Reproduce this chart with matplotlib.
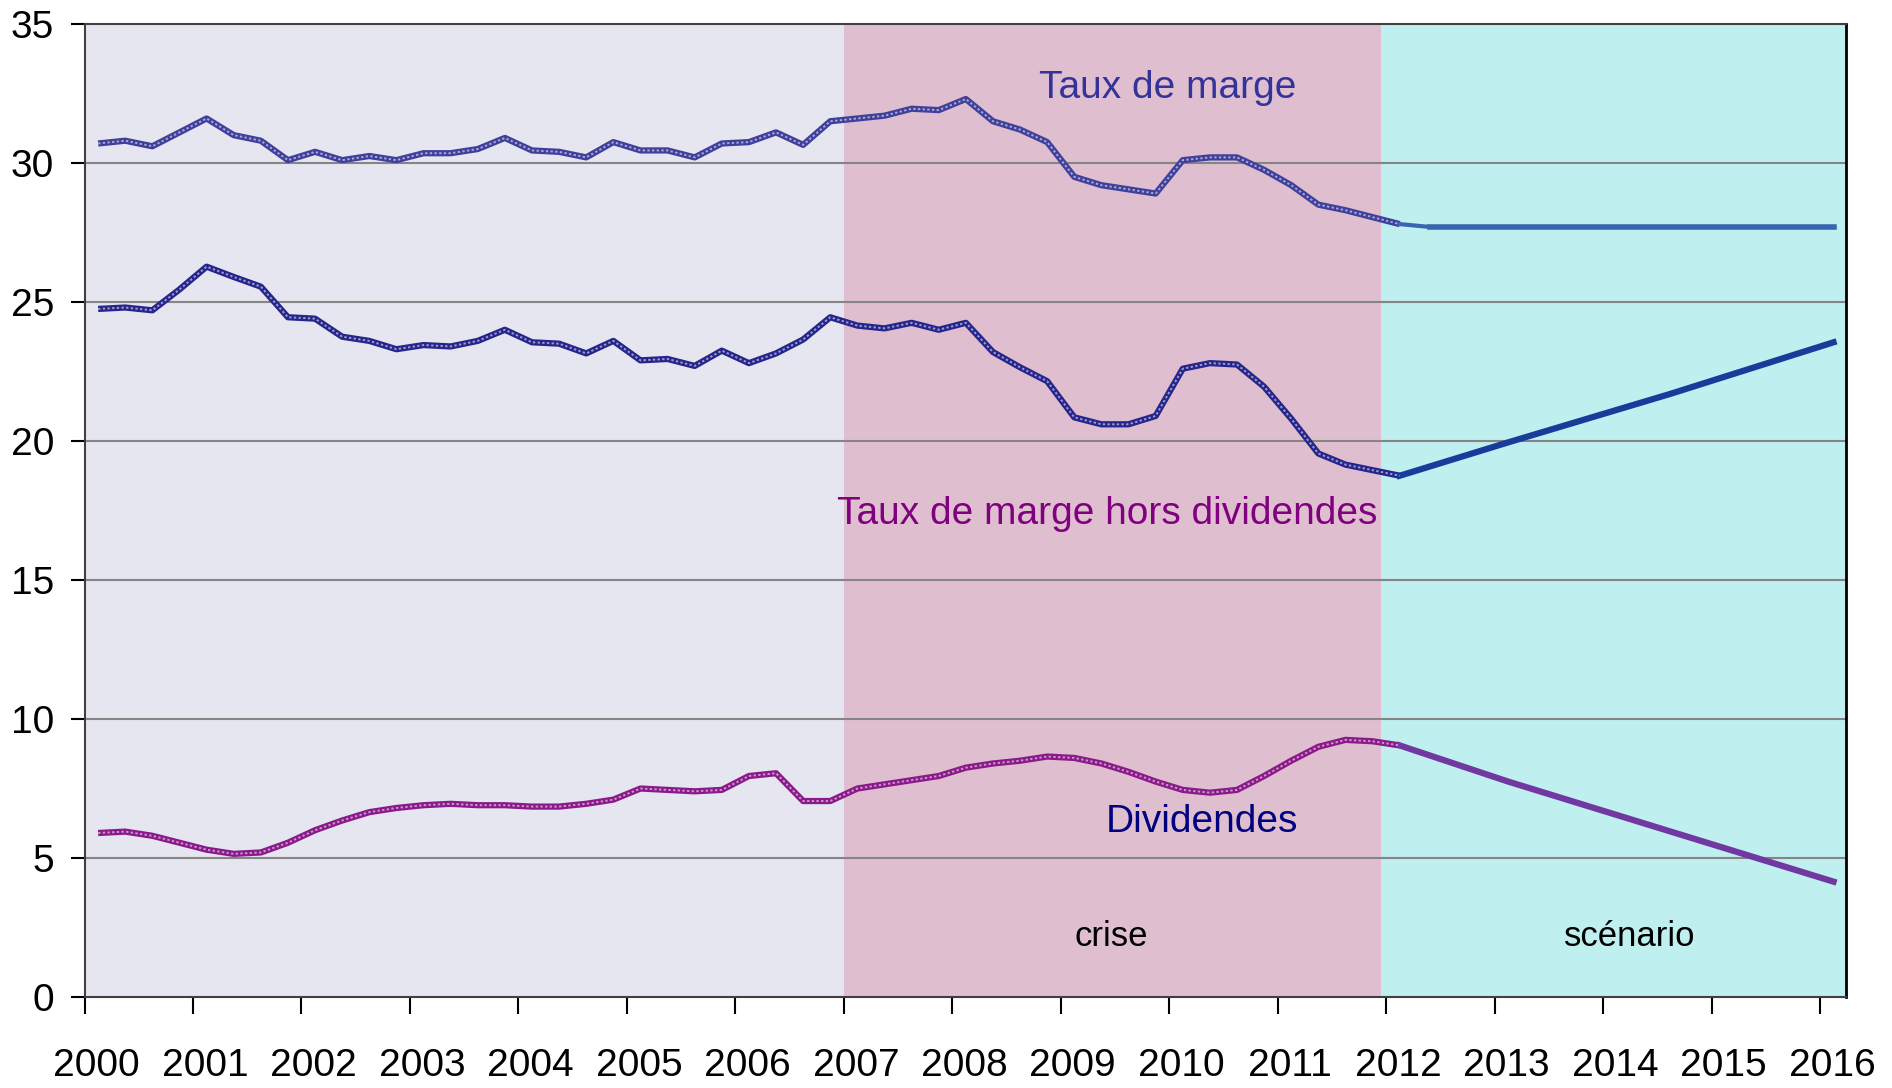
import matplotlib
matplotlib.use("Agg")
import matplotlib.pyplot as plt
import matplotlib.transforms as mtransforms
import numpy as np

plt.rcParams['font.family'] = ['Liberation Sans', 'DejaVu Sans']

# quarterly points, x = year + quarter middle
hist_x = 2000.125 + 0.25 * np.arange(49)   # 2000T1 .. 2012T1

marge = [30.7, 30.8, 30.6, 31.1, 31.6, 31.0, 30.8, 30.1,
         30.4, 30.1, 30.25, 30.1, 30.35, 30.35, 30.5, 30.9,
         30.45, 30.4, 30.2, 30.75, 30.45, 30.45, 30.2, 30.7,
         30.75, 31.1, 30.65, 31.5, 31.6, 31.7, 31.95, 31.9,
         32.3, 31.5, 31.2, 30.75, 29.5, 29.2, 29.05, 28.9,
         30.1, 30.2, 30.2, 29.75, 29.2, 28.5, 28.3, 28.05, 27.8]

hors_div = [24.75, 24.8, 24.7, 25.45, 26.27, 25.9, 25.55, 24.45,
            24.4, 23.75, 23.6, 23.3, 23.45, 23.4, 23.6, 24.0,
            23.55, 23.5, 23.15, 23.6, 22.9, 22.95, 22.7, 23.25,
            22.8, 23.15, 23.65, 24.45, 24.15, 24.05, 24.25, 24.0,
            24.25, 23.2, 22.65, 22.15, 20.85, 20.6, 20.6, 20.9,
            22.6, 22.8, 22.75, 21.95, 20.8, 19.55, 19.15, 18.95, 18.75]

dividendes = [5.9, 5.95, 5.8, 5.55, 5.3, 5.15, 5.2, 5.55,
              6.0, 6.35, 6.65, 6.8, 6.9, 6.95, 6.9, 6.9,
              6.85, 6.85, 6.95, 7.1, 7.5, 7.45, 7.4, 7.45,
              7.95, 8.05, 7.05, 7.05, 7.5, 7.65, 7.8, 7.95,
              8.25, 8.4, 8.5, 8.65, 8.6, 8.4, 8.1, 7.75,
              7.45, 7.35, 7.45, 7.95, 8.5, 9.0, 9.25, 9.2, 9.05]

# scenario 2012-2016
scen_x = [2012.125, 2013.125, 2014.625, 2016.125]
scen_marge = [27.7, 27.7, 27.7, 27.7]
scen_hors_div = [18.75, 19.95, 21.7, 23.55]
scen_div = [9.05, 7.75, 5.95, 4.15]

years = list(range(2000, 2017))

fig = plt.figure(figsize=(18.92, 10.88), dpi=100)
ax = fig.add_axes([0.0447, 0.0836, 0.9310, 0.8944])

ax.axvspan(2000, 2007, color='#e6e6f0', lw=0, zorder=0)
ax.axvspan(2007, 2011.95, color='#dfbfcf', lw=0, zorder=0)
ax.axvspan(2011.95, 2016.25, color='#bfefef', lw=0, zorder=0)

for yv in range(5, 35, 5):
    ax.axhline(yv, color='#858585', lw=1.5, zorder=1)

def chain(x, y, col):
    # hollow square chain look
    ax.plot(x, y, color=col, lw=4.5, zorder=3, solid_capstyle='butt')
    ax.plot(x, y, color='white', alpha=0.55, lw=1.4, dashes=(1.2, 1.2), zorder=4)

chain(hist_x, marge, '#3f3f9c')
chain(hist_x, hors_div, '#25258c')
chain(hist_x, dividendes, '#8a1a8a')

# small join from last quarter to the flat scenario level
ax.plot([hist_x[-1], 2012.4], [marge[-1], scen_marge[0]], color='#3a64b0', lw=3, zorder=3)
ax.plot([2012.4] + scen_x[1:], scen_marge[:1] + scen_marge[1:], color='#3a64b0', lw=4, zorder=3)
ax.plot(scen_x, scen_hors_div, color='#183c9a', lw=4.5, zorder=3)
ax.plot(scen_x, scen_div, color='#7038a0', lw=4.5, zorder=3)

ax.text(2009.99, 32.7, 'Taux de marge', color='#33339a', fontsize=28, ha='center', va='center', zorder=5)
ax.text(2009.43, 17.37, 'Taux de marge hors dividendes', color='#800080', fontsize=28, ha='center', va='center', zorder=5)
ax.text(2010.3, 6.3, 'Dividendes', color='#000080', fontsize=28, ha='center', va='center', zorder=5)
ax.text(2009.47, 2.17, 'crise', color='black', fontsize=25, ha='center', va='center', zorder=5)
ax.text(2014.25, 2.17, 'scénario', color='black', fontsize=25, ha='center', va='center', zorder=5)

ax.set_xlim(2000, 2016.24)
ax.set_ylim(0, 35)
ax.set_yticks(range(0, 40, 5))
ax.set_xticks(years)
ax.set_xticklabels([str(y) for y in years])
ax.tick_params(axis='y', labelsize=28, length=10, width=1.5, pad=12, colors='black')
ax.tick_params(axis='x', labelsize=28, length=12, width=1.5, pad=25, colors='black')

off = mtransforms.ScaledTranslation(0.12, 0, fig.dpi_scale_trans)
for lab in ax.get_xticklabels():
    lab.set_transform(lab.get_transform() + off)

for s in ['left', 'bottom', 'top']:
    ax.spines[s].set_color('#404040')
    ax.spines[s].set_linewidth(1.5)
ax.spines['right'].set_color('black')
ax.spines['right'].set_linewidth(2)

fig.savefig('out.png', dpi=100)
